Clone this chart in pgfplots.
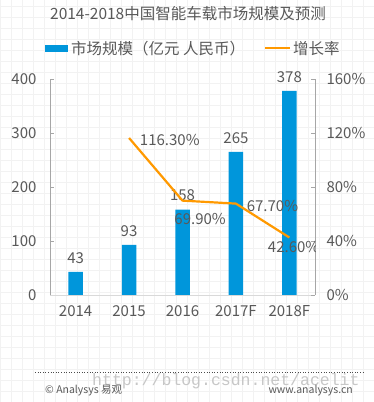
\documentclass[border=0pt]{standalone}
\usepackage{pgfplots}
\pgfplotsset{compat=1.18}
\usepackage{fontspec}
\setmainfont{Noto Sans CJK SC}
\newfontfamily\monowm{Liberation Mono}
\definecolor{barblue}{HTML}{0096DB}
\definecolor{lineorange}{HTML}{FF9900}
\definecolor{txtgray}{HTML}{595959}
\definecolor{axgray}{HTML}{A6A6A6}
\begin{document}
\begin{tikzpicture}[x=1pt,y=1pt]
\useasboundingbox (0,0) rectangle (374,402);
\fill[white] (0,0) rectangle (374,402);
\draw[step=11pt, color=black!5, line width=0.4pt] (0,0) grid (374,402);
% title and legend
\node[text=txtgray, font=\fontsize{15.5}{16}\selectfont] at (188,388) {2014-2018中国智能车载市场规模及预测};
\fill[barblue] (45,349.5) rectangle (68,356.5);
\node[anchor=west, text=txtgray, font=\fontsize{15.5}{16}\selectfont, inner sep=0] at (71,353) {市场规模（亿元 人民币）};
\draw[lineorange, line width=2pt] (265,354) -- (290,354);
\node[anchor=west, text=txtgray, font=\fontsize{15.5}{16}\selectfont, inner sep=0] at (293,353) {增长率};
% footer
\draw[black!70, dotted, line width=0.6pt] (35,30) -- (363,30);
\node[anchor=west, text=black!22, font=\monowm\fontsize{16.5}{17}\selectfont, inner sep=0] at (92,21) {http://blog.csdn.net/acelit};
\node[anchor=west, text=txtgray, font=\fontsize{10.5}{11}\selectfont, inner sep=0] at (45,11) {© Analysys 易观};
\node[anchor=east, text=txtgray, font=\fontsize{10.5}{11}\selectfont, inner sep=0] at (353,11) {www.analysys.cn};

\begin{axis}[
  at={(50pt,107pt)}, anchor=south west,
  scale only axis, width=265pt, height=216pt,
  xmin=-0.48, xmax=4.48, ymin=0, ymax=400,
  axis x line*=bottom, axis y line*=left,
  axis line style={axgray, line width=0.8pt, -},
  x axis line style={black!15},
  xtick={0,1,2,3,4},
  xticklabels={2014,2015,2016,2017F,2018F},
  major x tick style={draw=none},
  ytick={0,100,200,300,400},
  tick align=inside, major tick length=4pt,
  major y tick style={axgray, line width=0.8pt},
  ticklabel style={text=txtgray, font=\fontsize{15}{15}\selectfont},
  /pgf/number format/assume math mode=true,
  xticklabel style={yshift=-3pt},
  yticklabel style={xshift=-10pt},
  ybar, bar width=14.5pt,
  nodes near coords,
  nodes near coords style={text=txtgray, font=\fontsize{15}{15}\selectfont, yshift=5pt},
]
\addplot[fill=barblue, draw=none] coordinates {(0,43) (1,93) (2,158) (3,265) (4,378)};
\end{axis}

\begin{axis}[
  at={(50pt,107pt)}, anchor=south west,
  scale only axis, width=265pt, height=216pt,
  xmin=-0.48, xmax=4.48, ymin=0, ymax=160,
  axis x line=none, axis y line*=right,
  axis line style={axgray, line width=0.8pt, -},
  ytick={0,40,80,120,160},
  yticklabel={\pgfmathprintnumber{\tick}\%},
  tick align=inside, major tick length=4pt,
  major y tick style={axgray, line width=0.8pt},
  ticklabel style={text=txtgray, font=\fontsize{15}{15}\selectfont},
  /pgf/number format/assume math mode=true,
  yticklabel style={xshift=8pt},
]
\addplot[lineorange, line width=2.2pt, mark=none] coordinates {(1,116.3) (2,69.9) (3,67.7) (4,42.6)};
\node[anchor=west, text=txtgray, font=\fontsize{15}{15}\selectfont, inner sep=0] at (axis cs:1.2,115) {116.30\%};
\node[text=txtgray, font=\fontsize{15}{15}\selectfont, inner sep=0] at (axis cs:2.33,56.5) {69.90\%};
\node[anchor=west, text=txtgray, font=\fontsize{15}{15}\selectfont, inner sep=0] at (axis cs:3.2,66) {67.70\%};
\node[text=txtgray, font=\fontsize{15}{15}\selectfont, inner sep=0] at (axis cs:4.08,35.5) {42.60\%};
\end{axis}
\end{tikzpicture}
\end{document}
